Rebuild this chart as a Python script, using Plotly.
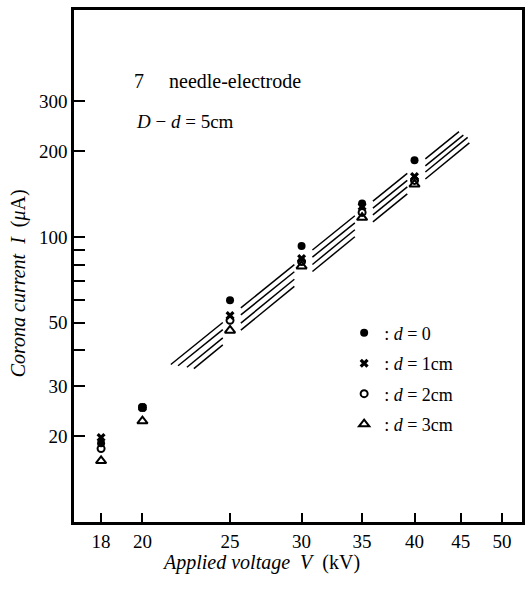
import numpy as np
import plotly.graph_objects as go

# ---- data ----
voltage = [18, 20, 25, 30, 35, 40]            # kV
current_d0 = [18.9, 25.2, 60, 93, 131, 186]    # uA, d = 0
current_d1 = [19.8, 25.2, 53, 84, 128, 163]    # uA, d = 1 cm
current_d2 = [18.1, 25.2, 51, 82, 122, 158]    # uA, d = 2 cm
current_d3 = [16.4, 22.6, 47, 79, 117, 153]    # uA, d = 3 cm

# straight (log-log) guide lines: value at two anchor voltages
fit_anchor_v = [26.85, 42.95]
fit_lines = [
    [63.1, 210.3],
    [59.6, 198.7],
    [55.9, 189.3],
    [52.8, 178.9],
]
fit_start_v = [21.5, 21.9, 22.4, 22.8]
fit_end_v = [44.8, 45.3, 45.8, 46.0]
gap_at_v = [25, 30, 35, 40]

x_ticks = [18, 20, 25, 30, 35, 40, 45, 50]
y_ticks = [20, 30, 40, 50, 60, 70, 80, 90, 100, 200, 300]
y_ticktext = ["20", "30", "", "50", "", "", "", "", "100", "200", "300"]

FONT = "Liberation Serif"

fig = go.Figure()

# guide lines, broken where the data columns are
lxa, lxb = np.log10(fit_anchor_v)
for vals, vs, ve in zip(fit_lines, fit_start_v, fit_end_v):
    lya, lyb = np.log10(vals)
    slope = (lyb - lya) / (lxb - lxa)
    cuts = [np.log10(vs)]
    for g in gap_at_v:
        lg = np.log10(g)
        if np.log10(vs) < lg < np.log10(ve):
            cuts += [lg - 0.008, lg + 0.012]
    cuts.append(np.log10(ve))
    xs, ys = [], []
    for i in range(0, len(cuts), 2):
        for lx in (cuts[i], cuts[i + 1]):
            xs.append(10 ** lx)
            ys.append(10 ** (lya + slope * (lx - lxa)))
        xs.append(None)
        ys.append(None)
    fig.add_trace(go.Scatter(x=xs, y=ys, mode="lines",
                             line=dict(color="black", width=1.5),
                             showlegend=False, hoverinfo="skip"))

series = [
    (current_d0, ": <i>d</i> = 0", dict(symbol="circle", size=8, color="black")),
    (current_d1, ": <i>d</i> = 1cm", dict(symbol="x", size=8, color="black")),
    (current_d2, ": <i>d</i> = 2cm", dict(symbol="circle-open", size=7, color="black",
                                         line=dict(width=2, color="black"))),
    (current_d3, ": <i>d</i> = 3cm", dict(symbol="triangle-up-open", size=9, color="black",
                                         line=dict(width=2, color="black"))),
]
for i, (vals, name, mk) in enumerate(series):
    fig.add_trace(go.Scatter(x=voltage, y=vals, mode="markers", name=name,
                             marker=mk, legendgroup=f"g{i}"))

axis_common = dict(showline=True, linewidth=2.5, linecolor="black", mirror=True,
                   showgrid=False, zeroline=False, ticks="inside",
                   tickcolor="black", tickwidth=1.6,
                   tickfont=dict(family=FONT, size=19, color="black"))

fig.update_layout(
    width=531, height=590,
    margin=dict(l=74, r=6, t=10, b=68),
    paper_bgcolor="white", plot_bgcolor="white",
    font=dict(family=FONT, color="black"),
    xaxis=dict(type="log", range=[np.log10(16.8), np.log10(52.6)],
               tickmode="array", tickvals=x_ticks,
               ticktext=[str(v) for v in x_ticks], ticklen=9, **axis_common),
    yaxis=dict(type="log", range=[1.0, 2.7965],
               tickmode="array", tickvals=y_ticks, ticktext=y_ticktext,
               ticklen=11, **axis_common),
    legend=dict(x=0.603, y=0.405, xanchor="left", yanchor="top",
                font=dict(family=FONT, size=18, color="black"),
                tracegroupgap=4, bgcolor="rgba(0,0,0,0)",
                itemwidth=30),
    showlegend=True,
    annotations=[
        dict(text="7\u2003 needle-electrode", x=0.1286, y=0.861, xref="paper", yref="paper",
             xanchor="left", yanchor="middle", showarrow=False,
             font=dict(family=FONT, size=20, color="black")),
        dict(text="<i>D</i> \u2212 <i>d</i> = 5cm", x=0.135, y=0.783,
             xref="paper", yref="paper", xanchor="left", yanchor="middle", showarrow=False,
             font=dict(family=FONT, size=19, color="black")),
        dict(text="<i>Corona current  I</i>  (<i>\u03bc</i>A)", x=-0.124, y=0.467,
             xref="paper", yref="paper", xanchor="center", yanchor="middle",
             textangle=-90, showarrow=False,
             font=dict(family=FONT, size=20, color="black")),
        dict(text="<i>Applied voltage  V</i>  (kV)", x=0.417, y=-0.080,
             xref="paper", yref="paper", xanchor="center", yanchor="middle",
             showarrow=False, font=dict(family=FONT, size=20, color="black")),
    ],
)

fig.write_html("out.html")
